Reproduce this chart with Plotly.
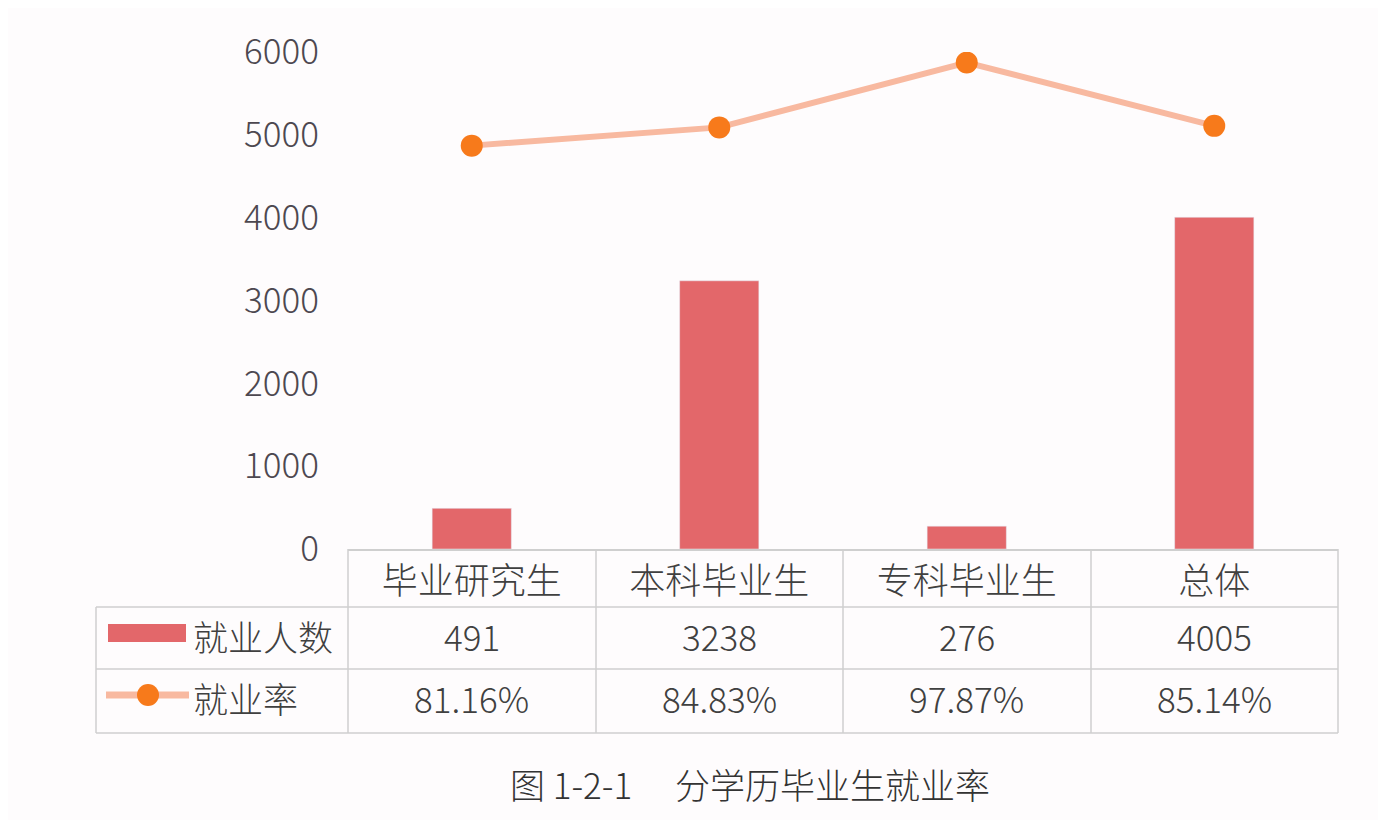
import plotly.graph_objects as go

categories = ["毕业研究生", "本科毕业生", "专科毕业生", "总体"]
employed = [491, 3238, 276, 4005]
rate = [0.8116, 0.8483, 0.9787, 0.8514]
rate_labels = ["81.16%", "84.83%", "97.87%", "85.14%"]
y_ticks = [0, 1000, 2000, 3000, 4000, 5000, 6000]

W, H = 1386, 820
OFF = 8  # page body margin
FONT = "Noto Sans CJK SC"
BAR = "#e3676a"
LINE = "#f8b9a0"
DOT = "#f77a1b"
GRID = "#cfcfcf"
TXT = "#404040"


def px(x):
    return (x - OFF) / W


def py(y):
    return 1 - (y - OFF) / H


fig = go.Figure()
fig.add_trace(go.Bar(x=categories, y=employed, name="就业人数", marker_color=BAR,
                     width=0.32, yaxis="y"))
fig.add_trace(go.Scatter(x=categories, y=rate, name="就业率", mode="lines+markers",
                         line=dict(color=LINE, width=6),
                         marker=dict(color=DOT, size=22), yaxis="y2"))

# table grid lines (pixel positions)
shapes = []
col_x = [348, 596, 843, 1091, 1338]
for x in col_x:
    shapes.append(dict(type="line", xref="paper", yref="paper", x0=px(x), x1=px(x),
                       y0=py(549), y1=py(733), line=dict(color=GRID, width=1.5)))
shapes.append(dict(type="line", xref="paper", yref="paper", x0=px(96), x1=px(96),
                   y0=py(607), y1=py(733), line=dict(color=GRID, width=1.5)))
for y in [607, 669, 733]:
    shapes.append(dict(type="line", xref="paper", yref="paper", x0=px(96), x1=px(1338),
                       y0=py(y), y1=py(y), line=dict(color=GRID, width=1.5)))
# legend keys
shapes.append(dict(type="rect", xref="paper", yref="paper", x0=px(108), x1=px(186),
                   y0=py(642), y1=py(624), fillcolor=BAR, line=dict(width=0)))
shapes.append(dict(type="line", xref="paper", yref="paper", x0=px(106), x1=px(189),
                   y0=py(695), y1=py(695), line=dict(color=LINE, width=7)))
shapes.append(dict(type="circle", xref="paper", yref="paper", x0=px(137), x1=px(159),
                   y0=py(706), y1=py(684), fillcolor=DOT, line=dict(width=0)))

tf = dict(size=35, color=TXT, family=FONT, weight=300)
annotations = []
annotations.append(dict(text="就业人数", xref="paper", yref="paper", x=px(191), y=py(635),
                        xanchor="left", yanchor="middle", showarrow=False, font=tf))
annotations.append(dict(text="就业率", xref="paper", yref="paper", x=px(191), y=py(697),
                        xanchor="left", yanchor="middle", showarrow=False, font=tf))
for c, v, r in zip(categories, employed, rate_labels):
    annotations.append(dict(text=str(v), xref="x", yref="paper", x=c, y=py(635),
                            xanchor="center", yanchor="middle", showarrow=False, font=tf))
    annotations.append(dict(text=r, xref="x", yref="paper", x=c, y=py(697),
                            xanchor="center", yanchor="middle", showarrow=False, font=tf))
annotations.append(dict(text="图 1-2-1　 分学历毕业生就业率", xref="paper", yref="paper",
                        x=px(750), y=py(783), xanchor="center", yanchor="middle",
                        showarrow=False,
                        font=dict(size=35, color="#333333", family=FONT, weight=300)))

fig.update_layout(
    width=W, height=H,
    margin=dict(l=0, r=0, t=0, b=0, autoexpand=False),
    paper_bgcolor="#fefcfd", plot_bgcolor="#fefcfd",
    showlegend=False,
    font=dict(family=FONT, color=TXT),
    xaxis=dict(domain=[px(348), px(1338)], showgrid=False, showline=True,
               linecolor=GRID, linewidth=1.5, ticks="", ticklabelstandoff=0,
               automargin=False,
               tickfont=dict(size=36, color=TXT, family=FONT, weight=300)),
    yaxis=dict(domain=[py(549), py(52)], range=[0, 6000], tickvals=y_ticks,
               showgrid=False, zeroline=False, showline=False, ticks="", automargin=False,
               ticklabelstandoff=28,
               tickfont=dict(size=35, color="#4d4850", family=FONT, weight=300)),
    yaxis2=dict(overlaying="y", range=[0, 1], visible=False, showgrid=False),
    shapes=shapes,
    annotations=annotations,
)

fig.write_html("out.html")
